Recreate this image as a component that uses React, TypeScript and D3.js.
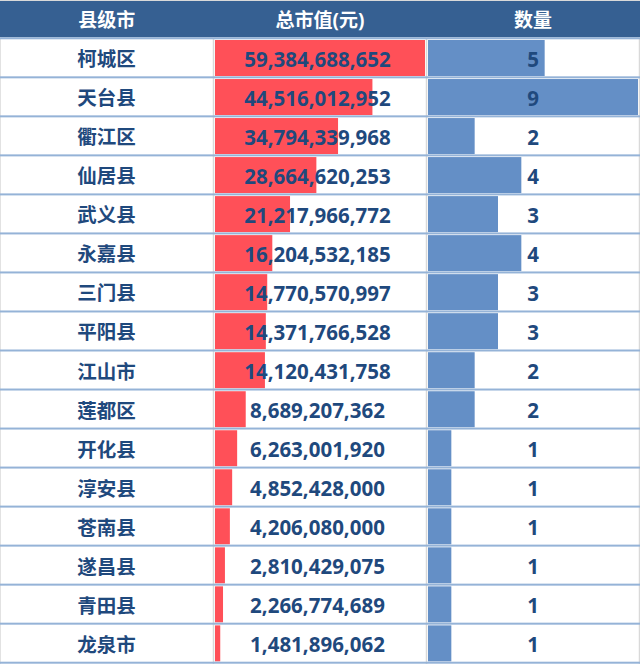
import React from "react";
import * as d3 from "d3";

const headers = ["县级市", "总市值(元)", "数量"];
const names = ["柯城区","天台县","衢江区","仙居县","武义县","永嘉县","三门县","平阳县","江山市","莲都区","开化县","淳安县","苍南县","遂昌县","青田县","龙泉市"];
const values = [59384688652,44516012952,34794339968,28664620253,21217966772,16204532185,14770570997,14371766528,14120431758,8689207362,6263001920,4852428000,4206080000,2810429075,2266774689,1481896062];
const counts = [5,9,2,4,3,4,3,3,2,2,1,1,1,1,1,1];

const W = 640, H = 664;
const lineTop = 37.3, rowH = 39.025;
const colX = [0, 213.5, 426.5, 639.5];
const FONT = "'Open Sans', 'Noto Sans CJK SC', sans-serif";
const TEXT = "#1F497D";

export default function App() {
  const xVal = d3.scaleLinear().domain([0, d3.max(values)!]).range([0, 210]);
  const xCnt = d3.scaleLinear().domain([0, d3.max(counts)!]).range([0, 210]);
  const fmt = d3.format(",");
  const rows = d3.range(names.length);
  return (
    <svg width={W} height={H} style={{ position: "absolute", left: 0, top: 0, background: "#fff" }} fontFamily={FONT}>
      <rect x={0} y={0} width={W} height={lineTop} fill="#366092" />
      <line x1={0} x2={W} y1={0.5} y2={0.5} stroke="#D9D9D9" />
      {headers.map((h, i) => (
        <text key={h} x={(colX[i] + colX[i + 1]) / 2} y={lineTop / 2 + 1} fill="#fff" fontSize={19} fontWeight="bold"
          textAnchor="middle" dominantBaseline="central">{h}</text>
      ))}
      {rows.map((i) => {
        const top = lineTop + i * rowH;
        const by = top + 2.7;
        const cy = top + 2 + (rowH - 2) / 2 + 1;
        return (
          <g key={i}>
            <rect x={215} y={by} width={xVal(values[i])} height={36} fill="#FF5058" />
            <rect x={428} y={by} width={xCnt(counts[i])} height={36} fill="#648FC6" />
            <text x={106.5} y={cy} fill={TEXT} fontSize={19.5} fontWeight="bold" textAnchor="middle" dominantBaseline="central">{names[i]}</text>
            <text x={317.5} y={cy} fill={TEXT} fontSize={20.5} fontWeight="bold" textAnchor="middle" dominantBaseline="central">{fmt(values[i])}</text>
            <text x={533} y={cy} fill={TEXT} fontSize={20.5} fontWeight="bold" textAnchor="middle" dominantBaseline="central">{counts[i]}</text>
          </g>
        );
      })}
      {colX.map((x, i) => (
        <line key={i} x1={x} x2={x} y1={lineTop} y2={H} stroke="#D9D9D9" strokeWidth={1.5} />
      ))}
      {d3.range(names.length + 1).map((i) => (
        <rect key={i} x={0} y={lineTop + i * rowH} width={W} height={2} fill="#95B3D7" />
      ))}
    </svg>
  );
}
